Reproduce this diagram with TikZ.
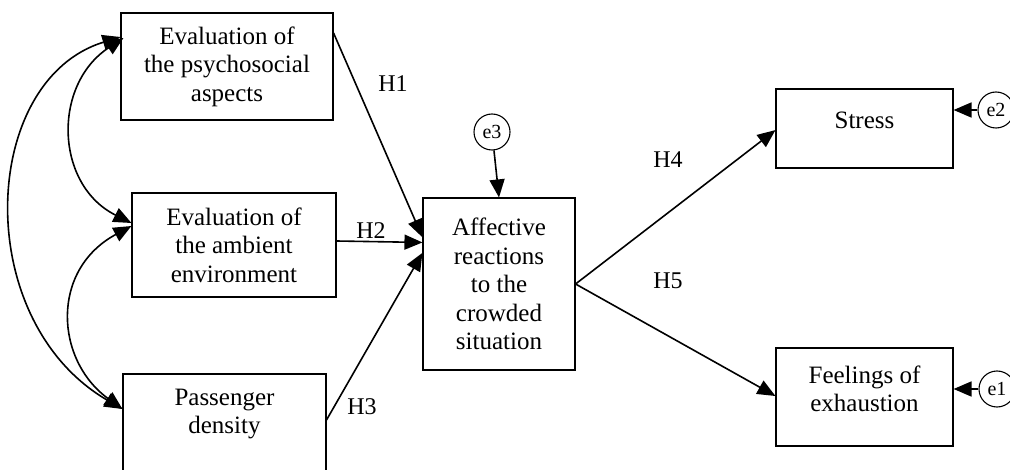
\documentclass[tikz,border=0pt]{standalone}
\usepackage{fontspec}
\setmainfont{Liberation Serif}
\usetikzlibrary{arrows.meta,calc}
\begin{document}
\begin{tikzpicture}[x=1pt,y=-1pt,
  box/.style={draw, line width=1.1pt, inner sep=0pt},
  txt/.style={font=\fontsize{25}{28.5}\selectfont, align=center, inner sep=0pt},
  path/.style={line width=1.6pt, -{Triangle[length=18pt,width=15pt]}},
  cov/.style={line width=1.6pt, {Triangle[length=18pt,width=15pt]}-{Triangle[length=18pt,width=15pt]}},
  err/.style={draw, circle, line width=1.1pt, minimum size=36pt, inner sep=0pt, font=\fontsize{20}{22}\selectfont},
  hyp/.style={font=\fontsize{24}{26}\selectfont, inner sep=0pt}
]
\useasboundingbox (0,0) rectangle (1010,470);

% boxes
\node[box, txt, minimum width=212pt, minimum height=107pt] (psy) at (227,66.5) {Evaluation of\\the psychosocial\\aspects};
\node[box, txt, minimum width=204pt, minimum height=104pt] (amb) at (234,245) {Evaluation of\\the ambient\\environment};
\node[box, minimum width=203pt, minimum height=108pt] (pas) at (224.5,428) {};
\node[txt] (pastext) at (224.5,414) {Passenger\\density};
\node[box, txt, minimum width=152pt, minimum height=172pt] (aff) at (499,284) {Affective\\reactions\\to the\\crowded\\situation};
\node[box, minimum width=177pt, minimum height=79pt] (stress) at (864.5,128.5) {};
\node[txt] (stresstext) at (864.5,120) {Stress};
\node[box, minimum width=177pt, minimum height=98pt] (feel) at (864.5,397) {};
\node[txt] (feeltext) at (864.5,389) {Feelings of\\exhaustion};

% error terms
\node[err] (e3) at (492,132) {e3};
\node[err] (e2) at (996,110) {e2};
\node[err] (e1) at (997,389) {e1};

% covariances
\draw[cov] (psy.west |- 0,37) .. controls (-20,80) and (-30,320) .. (pas.west |- 0,409);
\draw[cov] ($(psy.west |- 0,38)+(3,0)$) .. controls (52,85) and (55,185) .. (amb.west |- 0,223);
\draw[cov] (amb.west |- 0,226) .. controls (50,270) and (55,360) .. (pas.west |- 0,409);

% paths
\draw[path] ($(psy.north east)!0.19!(psy.south east)$) -- ($(aff.north west)!0.23!(aff.south west)$);
\draw[path] ($(amb.east)+(0,-4)$) -- ($(aff.north west)!0.26!(aff.south west)$);
\draw[path] ($(pas.north east)!0.426!(pas.south east)$) -- ($(aff.north west)!0.32!(aff.south west)$);
\draw[path] (aff.east) -- ($(stress.north west)!0.52!(stress.south west)$);
\draw[path] (aff.east) -- ($(feel.north west)!0.49!(feel.south west)$);
\draw[path] (e3) -- (aff.north);
\draw[path] (e2.west) -- (e2.west -| stress.east);
\draw[path] (e1.west) -- (e1.west -| feel.east);

% hypothesis labels
\node[hyp] (h1) at (393,84) {H1};
\node[hyp] (h2) at (371,231) {H2};
\node[hyp] (h3) at (362,407) {H3};
\node[hyp] (h4) at (668,160) {H4};
\node[hyp] (h5) at (668,281) {H5};
\end{tikzpicture}
\end{document}
